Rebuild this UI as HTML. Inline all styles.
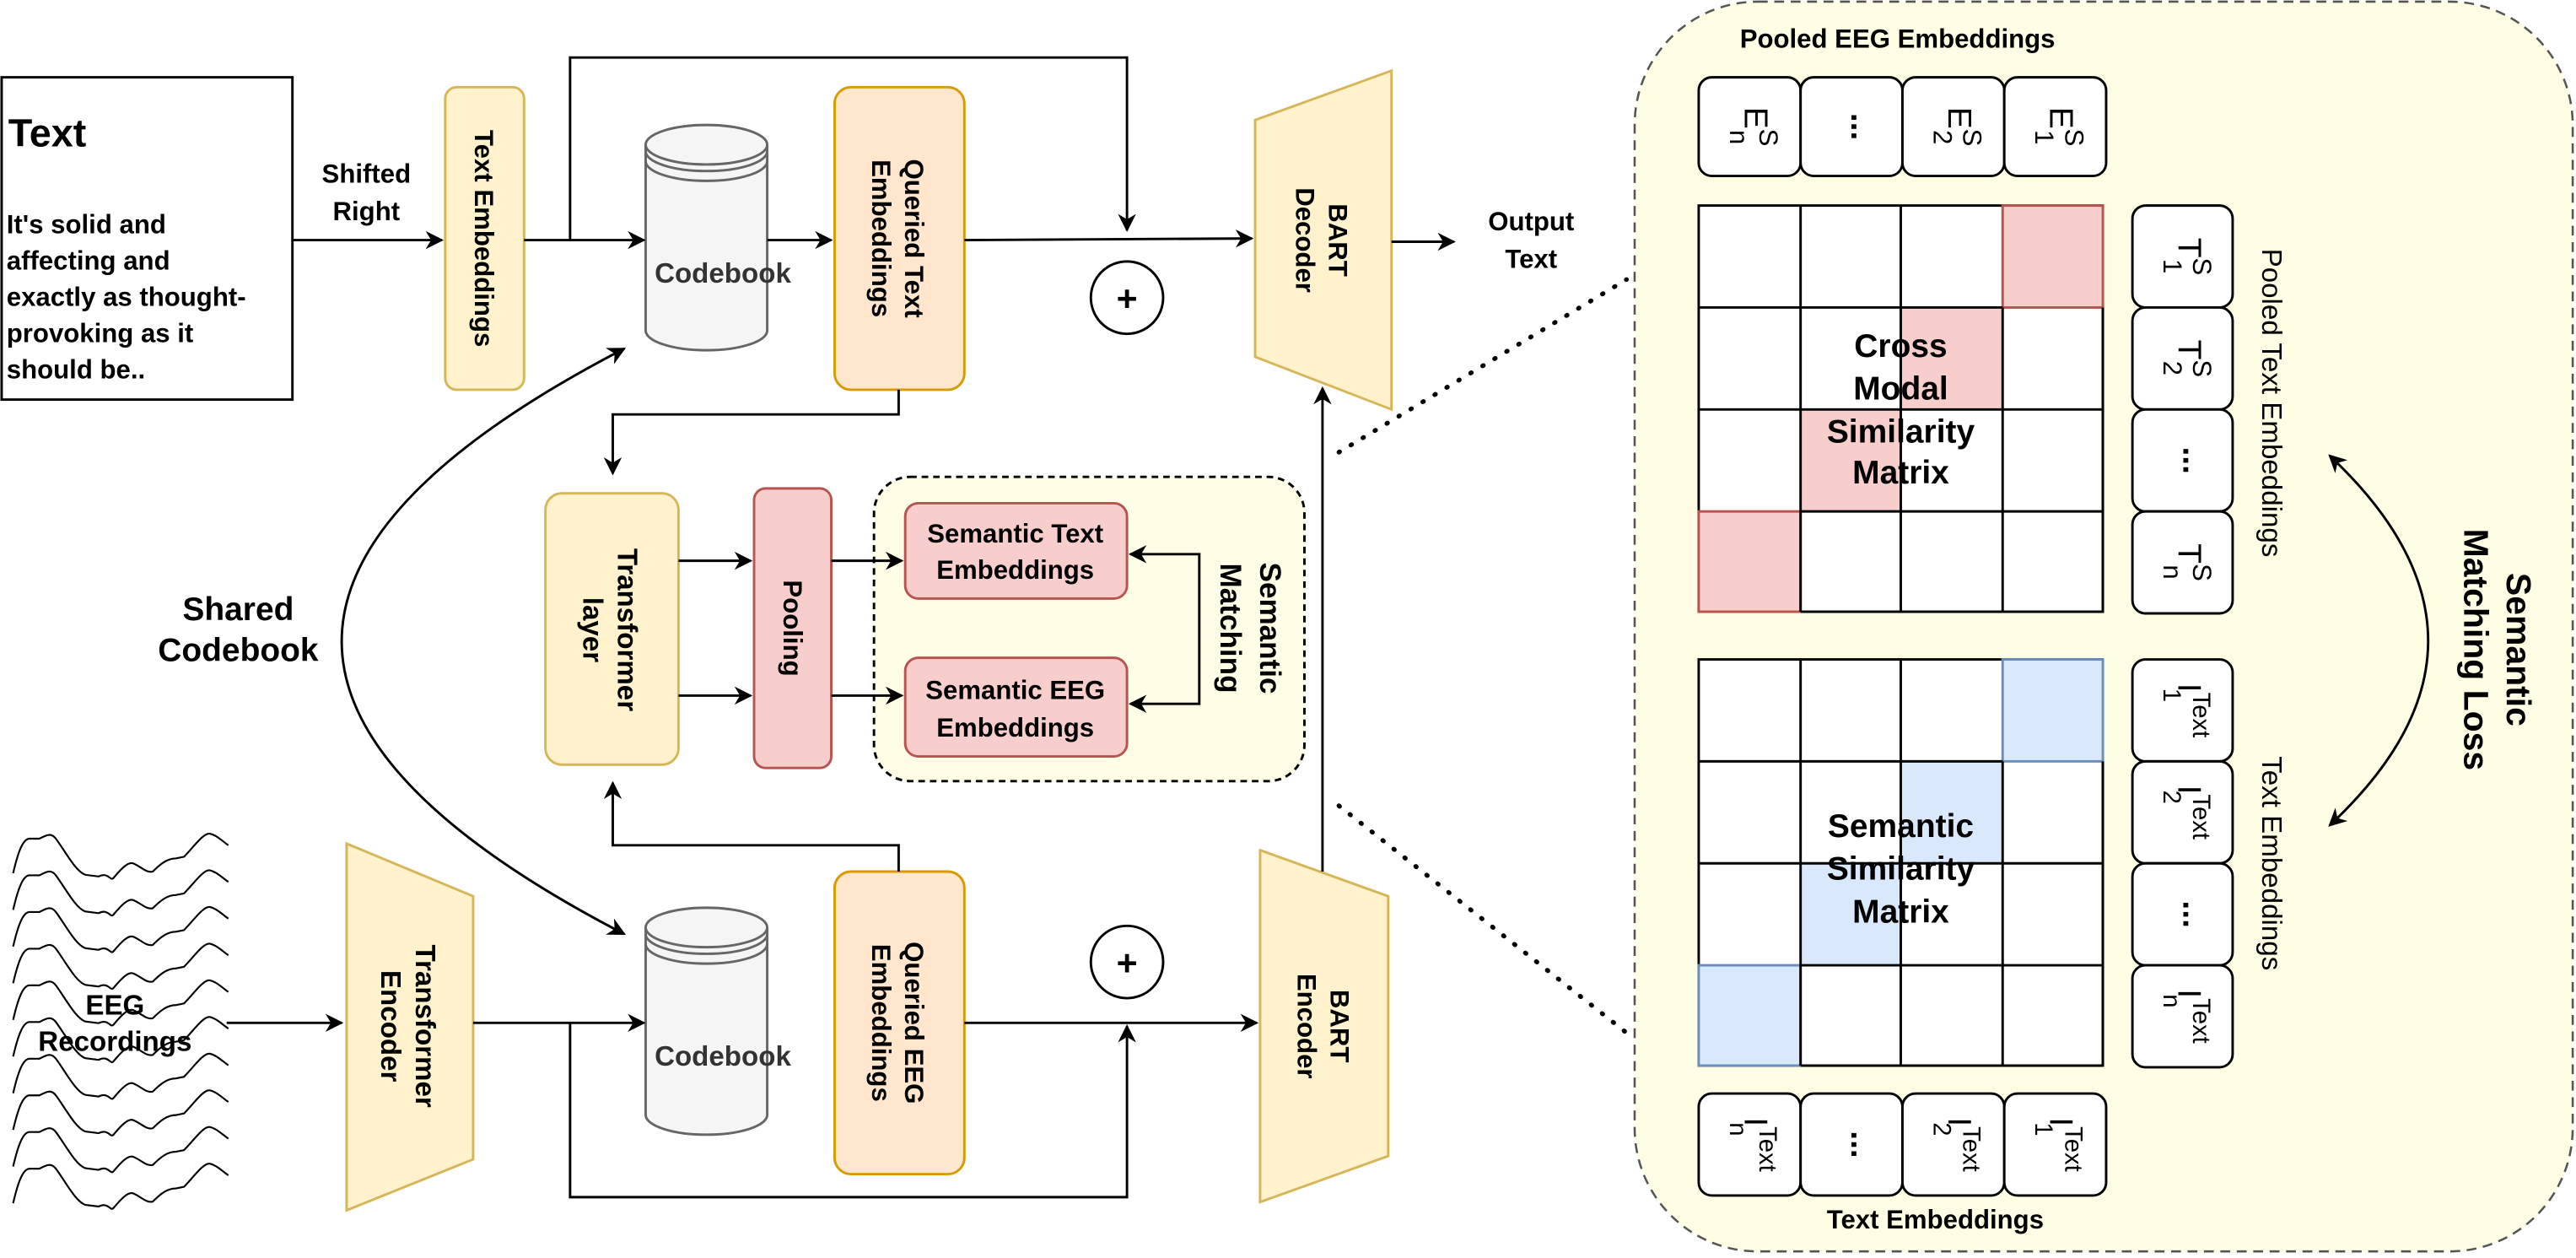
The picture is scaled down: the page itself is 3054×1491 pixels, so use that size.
<!DOCTYPE html>
<html><head><meta charset="utf-8"><style>
html,body{margin:0;padding:0;background:#fff;}
svg{display:block;}
text{font-family:"Liberation Sans",Arial,sans-serif;fill:#000;}
</style></head><body>
<svg width="3054" height="1491" viewBox="0 0 1568 765" preserveAspectRatio="none" xmlns="http://www.w3.org/2000/svg">
<defs>
<marker id="a2" viewBox="0 0 10 10" refX="9" refY="5" markerWidth="11" markerHeight="11" orient="auto-start-reverse" markerUnits="userSpaceOnUse"><path d="M0,0 L10,5 L0,10 L3,5 z" fill="#000"/></marker>
</defs>

<rect x="1" y="47" width="177" height="196" fill="#fff" stroke="#000" stroke-width="1.5"/>
<text x="5" y="89" font-weight="bold" font-size="24">Text</text>
<g font-size="16" font-weight="bold">
<text x="4" y="142">It's solid and</text>
<text x="4" y="164">affecting and</text>
<text x="4" y="186">exactly as thought-</text>
<text x="4" y="208">provoking as it</text>
<text x="4" y="230">should be..</text>
</g>
<text x="223" y="111" font-size="16" font-weight="bold" text-anchor="middle">Shifted</text>
<text x="223" y="134" font-size="16" font-weight="bold" text-anchor="middle">Right</text>

<rect x="271" y="53" width="48" height="184" rx="7" fill="#fff2cc" stroke="#d6b656" stroke-width="1.5"/>
<text transform="translate(289,145) rotate(90)" font-size="16" font-weight="bold" text-anchor="middle">Text Embeddings</text>

<g fill="#f5f5f5" stroke="#666" stroke-width="1.5">
<path d="M393,88 L393,201 A37,12 0 0 0 467,201 L467,88"/>
<ellipse cx="430" cy="88" rx="37" ry="12"/>
<path d="M393,564 L393,678 A37,12 0 0 0 467,678 L467,564"/>
<ellipse cx="430" cy="564" rx="37" ry="12"/>
</g>
<g fill="none" stroke="#666" stroke-width="1.5">
<path d="M393,92 A37,12 0 0 0 467,92"/>
<path d="M393,98 A37,12 0 0 0 467,98"/>
<path d="M393,568 A37,12 0 0 0 467,568"/>
<path d="M393,574 A37,12 0 0 0 467,574"/>
</g>
<text x="440" y="172" font-size="17" font-weight="bold" text-anchor="middle" style="fill:#333">Codebook</text>
<text x="440" y="648" font-size="17" font-weight="bold" text-anchor="middle" style="fill:#333">Codebook</text>

<rect x="508" y="53" width="79" height="184" rx="10" fill="#ffe6cc" stroke="#d79b00" stroke-width="1.5"/>
<text transform="translate(547,145) rotate(90)" font-size="16" font-weight="bold" text-anchor="middle"><tspan x="0" dy="-4">Queried Text</tspan><tspan x="0" dy="20">Embeddings</tspan></text>
<rect x="508" y="530" width="79" height="184" rx="10" fill="#ffe6cc" stroke="#d79b00" stroke-width="1.5"/>
<text transform="translate(547,622) rotate(90)" font-size="16" font-weight="bold" text-anchor="middle"><tspan x="0" dy="-4">Queried EEG</tspan><tspan x="0" dy="20">Embeddings</tspan></text>

<circle cx="686" cy="181" r="22" fill="#fff" stroke="#000" stroke-width="1.5"/>
<text x="686" y="189" font-size="22" font-weight="bold" text-anchor="middle">+</text>
<circle cx="686" cy="585" r="22" fill="#fff" stroke="#000" stroke-width="1.5"/>
<text x="686" y="593" font-size="22" font-weight="bold" text-anchor="middle">+</text>

<polygon points="764,73 847,43 847,249 764,217" fill="#fff2cc" stroke="#d6b656" stroke-width="1.5"/>
<text transform="translate(805,146) rotate(90)" font-size="16" font-weight="bold" text-anchor="middle"><tspan x="0" dy="-4">BART</tspan><tspan x="0" dy="20">Decoder</tspan></text>
<text x="932" y="140" font-size="16" font-weight="bold" text-anchor="middle">Output</text>
<text x="932" y="163" font-size="16" font-weight="bold" text-anchor="middle">Text</text>

<polygon points="767,517 845,545 845,703 767,731" fill="#fff2cc" stroke="#d6b656" stroke-width="1.5"/>
<text transform="translate(806,624) rotate(90)" font-size="16" font-weight="bold" text-anchor="middle"><tspan x="0" dy="-4">BART</tspan><tspan x="0" dy="20">Encoder</tspan></text>

<polygon points="211,513 288,545 288,705 211,736" fill="#fff2cc" stroke="#d6b656" stroke-width="1.5"/>
<text transform="translate(249,624) rotate(90)" font-size="17" font-weight="bold" text-anchor="middle"><tspan x="0" dy="-4">Transformer</tspan><tspan x="0" dy="21">Encoder</tspan></text>

<rect x="332" y="300" width="81" height="165" rx="10" fill="#fff2cc" stroke="#d6b656" stroke-width="1.5"/>
<text transform="translate(372,383) rotate(90)" font-size="17" font-weight="bold" text-anchor="middle"><tspan x="0" dy="-4">Transformer</tspan><tspan x="0" dy="21">layer</tspan></text>
<rect x="459" y="297" width="47" height="170" rx="7" fill="#f8cecc" stroke="#b85450" stroke-width="1.5"/>
<text transform="translate(477,382) rotate(90)" font-size="16" font-weight="bold" text-anchor="middle">Pooling</text>
<rect x="532" y="290" width="262" height="185" rx="22" fill="#fefee6" stroke="#000" stroke-width="1.5" stroke-dasharray="4,3"/>
<rect x="551" y="306" width="135" height="58" rx="8" fill="#f8cecc" stroke="#b85450" stroke-width="1.5"/>
<text x="618" y="330" font-size="16" font-weight="bold" text-anchor="middle">Semantic Text</text>
<text x="618" y="352" font-size="16" font-weight="bold" text-anchor="middle">Embeddings</text>
<rect x="551" y="400" width="135" height="60" rx="8" fill="#f8cecc" stroke="#b85450" stroke-width="1.5"/>
<text x="618" y="425" font-size="16" font-weight="bold" text-anchor="middle">Semantic EEG</text>
<text x="618" y="448" font-size="16" font-weight="bold" text-anchor="middle">Embeddings</text>
<text transform="translate(761,382) rotate(90)" font-size="18" font-weight="bold" text-anchor="middle"><tspan x="0" dy="-6">Semantic</tspan><tspan x="0" dy="24">Matching</tspan></text>
<text x="145" y="377" font-size="20" font-weight="bold" text-anchor="middle">Shared</text>
<text x="145" y="402" font-size="20" font-weight="bold" text-anchor="middle">Codebook</text>

<g fill="none" stroke="#000" stroke-width="1.1">
<path id="w" d="M8,531 C11,518 14,510 18,510 L24,510 C28,508 31,506 34,510 C40,518 46,530 52,532 L60,533 C66,530 67,536 69,534 C74,528 78,524 81,525 C86,527 89,531 93,530 C98,525 102,522 107,522 L112,521 C118,515 124,506 128,507 C132,508 136,512 139,514"/>
<use href="#w" y="22.3"/><use href="#w" y="44.6"/><use href="#w" y="66.9"/><use href="#w" y="89.2"/>
<use href="#w" y="111.5"/><use href="#w" y="133.8"/><use href="#w" y="156.1"/><use href="#w" y="178.4"/><use href="#w" y="200.7"/>
</g>
<text x="70" y="617" font-size="17" font-weight="bold" text-anchor="middle">EEG</text>
<text x="70" y="639" font-size="17" font-weight="bold" text-anchor="middle">Recordings</text>

<rect x="995" y="1" width="571" height="760" rx="75" fill="#fefee4" stroke="#555" stroke-width="1.3" stroke-dasharray="6,4"/>
<text x="1155" y="29" font-size="16" font-weight="bold" text-anchor="middle">Pooled EEG Embeddings</text>
<text x="1178" y="747" font-size="16" font-weight="bold" text-anchor="middle">Text Embeddings</text>

<g fill="#fff" stroke="#000" stroke-width="1.5">
<rect x="1034" y="47" width="62" height="60" rx="8"/><rect x="1096" y="47" width="62" height="60" rx="8"/>
<rect x="1158" y="47" width="62" height="60" rx="8"/><rect x="1220" y="47" width="62" height="60" rx="8"/>
<rect x="1034" y="665" width="62" height="62" rx="8"/><rect x="1096" y="665" width="62" height="62" rx="8"/>
<rect x="1158" y="665" width="62" height="62" rx="8"/><rect x="1220" y="665" width="62" height="62" rx="8"/>
<rect x="1298" y="125" width="61" height="62" rx="8"/><rect x="1298" y="187" width="61" height="62" rx="8"/>
<rect x="1298" y="249" width="61" height="62" rx="8"/><rect x="1298" y="311" width="61" height="62" rx="8"/>
<rect x="1298" y="401" width="61" height="62" rx="8"/><rect x="1298" y="463" width="61" height="62" rx="8"/>
<rect x="1298" y="525" width="61" height="62" rx="8"/><rect x="1298" y="587" width="61" height="62" rx="8"/>
</g>
<g stroke-width="1.5">
<rect x="1034" y="125" width="246" height="247" fill="#fff" stroke="#000"/>
<rect x="1219" y="125" width="61" height="62" fill="#f8cecc" stroke="#b85450"/>
<rect x="1157" y="187" width="62" height="62" fill="#f8cecc" stroke="none"/>
<rect x="1096" y="249" width="61" height="62" fill="#f8cecc" stroke="none"/>
<rect x="1034" y="311" width="62" height="61" fill="#f8cecc" stroke="#b85450"/>
<path d="M1096,125V372M1157,125V372M1219,187V372M1034,187H1219M1034,249H1280M1096,311H1280M1280,187V372M1096,372H1280" stroke="#000" fill="none"/>
<rect x="1034" y="401" width="246" height="247" fill="#fff" stroke="#000"/>
<rect x="1219" y="401" width="61" height="62" fill="#dae8fc" stroke="#6c8ebf"/>
<rect x="1157" y="463" width="62" height="62" fill="#dae8fc" stroke="none"/>
<rect x="1096" y="525" width="61" height="62" fill="#dae8fc" stroke="none"/>
<rect x="1034" y="587" width="62" height="61" fill="#dae8fc" stroke="#6c8ebf"/>
<path d="M1096,401V648M1157,401V648M1219,463V648M1034,463H1219M1034,525H1280M1096,587H1280M1280,463V648M1096,648H1280" stroke="#000" fill="none"/>
</g>
<g font-size="20" font-weight="bold" text-anchor="middle">
<text x="1157" y="217">Cross</text><text x="1157" y="243">Modal</text>
<text x="1157" y="269">Similarity</text><text x="1157" y="294">Matrix</text>
<text x="1157" y="509">Semantic</text><text x="1157" y="535">Similarity</text><text x="1157" y="561">Matrix</text>
</g>

<g font-size="20" text-anchor="middle">
<text transform="translate(1062,77) rotate(90)">E<tspan font-size="16" dy="-9">S</tspan><tspan font-size="16" dx="-10" dy="18">n</tspan></text>
<text transform="translate(1127,77) rotate(90)" font-weight="bold">...</text>
<text transform="translate(1186,77) rotate(90)">E<tspan font-size="16" dy="-9">S</tspan><tspan font-size="16" dx="-10" dy="18">2</tspan></text>
<text transform="translate(1248,77) rotate(90)">E<tspan font-size="16" dy="-9">S</tspan><tspan font-size="16" dx="-10" dy="18">1</tspan></text>
<text transform="translate(1326,156) rotate(90)">T<tspan font-size="16" dy="-9">S</tspan><tspan font-size="16" dx="-10" dy="18">1</tspan></text>
<text transform="translate(1326,218) rotate(90)">T<tspan font-size="16" dy="-9">S</tspan><tspan font-size="16" dx="-10" dy="18">2</tspan></text>
<text transform="translate(1329,280) rotate(90)" font-weight="bold">...</text>
<text transform="translate(1326,342) rotate(90)">T<tspan font-size="16" dy="-9">S</tspan><tspan font-size="16" dx="-10" dy="18">n</tspan></text>
<text transform="translate(1326,432) rotate(90)">I<tspan font-size="15" dy="-9">Text</tspan><tspan font-size="15" dx="-30" dy="18">1</tspan></text>
<text transform="translate(1326,494) rotate(90)">I<tspan font-size="15" dy="-9">Text</tspan><tspan font-size="15" dx="-30" dy="18">2</tspan></text>
<text transform="translate(1329,556) rotate(90)" font-weight="bold">...</text>
<text transform="translate(1326,618) rotate(90)">I<tspan font-size="15" dy="-9">Text</tspan><tspan font-size="15" dx="-30" dy="18">n</tspan></text>
<text transform="translate(1062,696) rotate(90)">I<tspan font-size="15" dy="-9">Text</tspan><tspan font-size="15" dx="-30" dy="18">n</tspan></text>
<text transform="translate(1127,696) rotate(90)" font-weight="bold">...</text>
<text transform="translate(1186,696) rotate(90)">I<tspan font-size="15" dy="-9">Text</tspan><tspan font-size="15" dx="-30" dy="18">2</tspan></text>
<text transform="translate(1248,696) rotate(90)">I<tspan font-size="15" dy="-9">Text</tspan><tspan font-size="15" dx="-30" dy="18">1</tspan></text>
</g>
<text transform="translate(1377,245) rotate(90)" font-size="17" text-anchor="middle">Pooled Text Embeddings</text>
<text transform="translate(1377,525) rotate(90)" font-size="17" text-anchor="middle">Text Embeddings</text>
<text transform="translate(1520,395) rotate(90)" font-size="21" font-weight="bold" text-anchor="middle"><tspan x="0" dy="-6">Semantic</tspan><tspan x="0" dy="26">Matching Loss</tspan></text>

<g stroke="#000" stroke-width="1.5" fill="none">
<line x1="178" y1="146" x2="269" y2="146" marker-end="url(#a2)"/>
<line x1="319" y1="146" x2="392" y2="146" marker-end="url(#a2)"/>
<polyline points="347,146 347,35 686,35 686,140" marker-end="url(#a2)"/>
<line x1="467" y1="146" x2="506" y2="146" marker-end="url(#a2)"/>
<line x1="587" y1="146" x2="762" y2="145" marker-end="url(#a2)"/>
<line x1="847" y1="147" x2="885" y2="147" marker-end="url(#a2)"/>
<polyline points="547,237 547,252 373,252 373,288" marker-end="url(#a2)"/>
<line x1="413" y1="341" x2="457" y2="341" marker-end="url(#a2)"/>
<line x1="413" y1="423" x2="457" y2="423" marker-end="url(#a2)"/>
<line x1="506" y1="341" x2="549" y2="341" marker-end="url(#a2)"/>
<line x1="506" y1="423" x2="549" y2="423" marker-end="url(#a2)"/>
<polyline points="688,337 730,337 730,428 688,428" marker-start="url(#a2)" marker-end="url(#a2)"/>
<line x1="805" y1="530" x2="805" y2="236" marker-end="url(#a2)"/>
<line x1="138" y1="622" x2="208" y2="622" marker-end="url(#a2)"/>
<line x1="288" y1="622" x2="392" y2="622" marker-end="url(#a2)"/>
<polyline points="347,622 347,728 686,728 686,624" marker-end="url(#a2)"/>
<line x1="587" y1="622" x2="765" y2="622" marker-end="url(#a2)"/>
<polyline points="547,530 547,514 373,514 373,476" marker-end="url(#a2)"/>
<path d="M380,212 Q36,390 380,568" marker-start="url(#a2)" marker-end="url(#a2)"/>
<path d="M1418,277 Q1538,390 1418,502" marker-start="url(#a2)" marker-end="url(#a2)"/>
<line x1="815" y1="275" x2="990" y2="170" stroke-dasharray="0.5,8" stroke-width="2.8" stroke-linecap="round"/>
<line x1="815" y1="490" x2="990" y2="628" stroke-dasharray="0.5,8" stroke-width="2.8" stroke-linecap="round"/>
</g>
</svg>
</body></html>
